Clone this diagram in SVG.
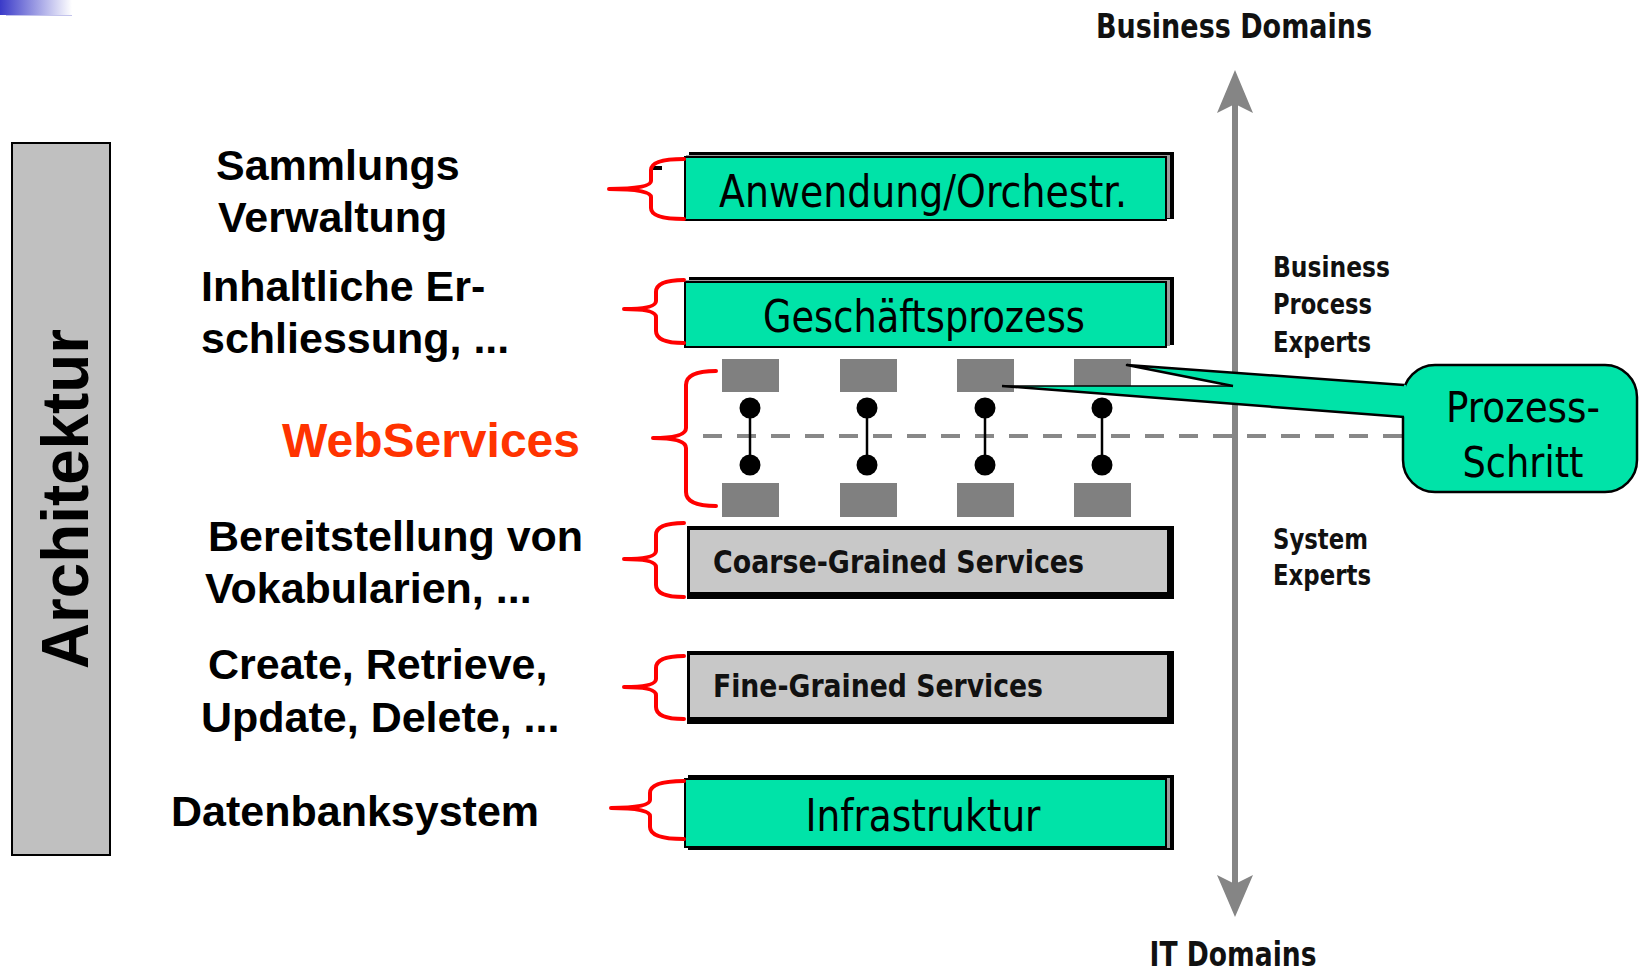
<svg xmlns="http://www.w3.org/2000/svg" width="1639" height="972" viewBox="0 0 1639 972">
  <style>
    .lbl { font-family: "Liberation Sans", Arial, sans-serif; font-weight: bold; font-size: 43px; fill: #000; }
    .title { font-family: "Liberation Sans", Arial, sans-serif; font-weight: bold; font-size: 66px; fill: #000; }
    .web { font-family: "Liberation Sans", Arial, sans-serif; font-weight: bold; font-size: 48px; fill: #ff3300; }
    .layer { font-family: "DejaVu Sans Condensed", "DejaVu Sans", sans-serif; font-stretch: condensed; font-size: 45px; fill: #000; text-anchor: middle; }
    .note { font-family: "DejaVu Sans Condensed", "DejaVu Sans", sans-serif; font-stretch: condensed; font-size: 43px; fill: #000; text-anchor: middle; }
    .svc { font-family: "DejaVu Sans Condensed", "DejaVu Sans", sans-serif; font-stretch: condensed; font-weight: bold; font-size: 32px; fill: #111; }
    .axis-big { font-family: "DejaVu Sans Condensed", "DejaVu Sans", sans-serif; font-stretch: condensed; font-weight: bold; font-size: 33px; fill: #111; text-anchor: middle; }
    .axis-sm { font-family: "DejaVu Sans Condensed", "DejaVu Sans", sans-serif; font-stretch: condensed; font-weight: bold; font-size: 29px; fill: #111; }
    .green { fill: #00e3a8; stroke: #000; stroke-width: 2; }
    .shadow { fill: #000; }
    .edge { fill: #9a9a9a; }
    .brace { fill: none; stroke: #ff0000; stroke-width: 4; stroke-linecap: round; stroke-linejoin: round; }
    .step { fill: #808080; }
    .dot { fill: #000; }
    .link { stroke: #000; stroke-width: 2.5; }
  </style>
  <defs>
    <linearGradient id="corner" x1="0" y1="0" x2="1" y2="0">
      <stop offset="0" stop-color="#3a3ac8"/>
      <stop offset="1" stop-color="#ffffff"/>
    </linearGradient>
  </defs>

  <rect x="0" y="0" width="1639" height="972" fill="#ffffff"/>
  <rect x="0" y="0" width="72" height="15" fill="url(#corner)"/>
  <line x1="6" y1="15.5" x2="72" y2="15.5" stroke="#c4c4ec" stroke-width="1"/>

  <!-- vertical architecture bar -->
  <g id="architektur">
    <rect x="12" y="143" width="98" height="712" fill="#c0c0c0" stroke="#000" stroke-width="2"/>
    <text class="title" text-anchor="middle" textLength="340" lengthAdjust="spacingAndGlyphs" transform="translate(88 499) rotate(-90)">Architektur</text>
  </g>

  <!-- left-hand descriptions -->
  <g id="labels">
    <text class="lbl" x="216" y="180">Sammlungs</text>
    <text class="lbl" x="218" y="232">Verwaltung</text>
    <text class="lbl" x="201" y="301">Inhaltliche Er-</text>
    <text class="lbl" x="201" y="353">schliessung, ...</text>
    <text class="web" x="282" y="457">WebServices</text>
    <text class="lbl" x="208" y="551">Bereitstellung von</text>
    <text class="lbl" x="205" y="603">Vokabularien, ...</text>
    <text class="lbl" x="208" y="679">Create, Retrieve,</text>
    <text class="lbl" x="201" y="732">Update, Delete, ...</text>
    <text class="lbl" x="171" y="826">Datenbanksystem</text>
  </g>

  <!-- business / IT axis -->
  <g id="axis">
    <line x1="1235" y1="104" x2="1235" y2="884" stroke="#858585" stroke-width="6"/>
    <path d="M1235 70 L1253 113 L1235 104 L1217 113 Z" fill="#858585"/>
    <path d="M1235 917 L1253 875 L1235 884 L1217 875 Z" fill="#858585"/>
    <text class="axis-big" x="1234" y="38" textLength="276" lengthAdjust="spacingAndGlyphs">Business Domains</text>
    <text class="axis-big" x="1233" y="966" textLength="167" lengthAdjust="spacingAndGlyphs">IT Domains</text>
    <text class="axis-sm" x="1273" y="277" textLength="117" lengthAdjust="spacingAndGlyphs">Business</text>
    <text class="axis-sm" x="1273" y="314" textLength="99" lengthAdjust="spacingAndGlyphs">Process</text>
    <text class="axis-sm" x="1273" y="352" textLength="98" lengthAdjust="spacingAndGlyphs">Experts</text>
    <text class="axis-sm" x="1273" y="549" textLength="95" lengthAdjust="spacingAndGlyphs">System</text>
    <text class="axis-sm" x="1273" y="585" textLength="98" lengthAdjust="spacingAndGlyphs">Experts</text>
  </g>

  <!-- layer: application / orchestration -->
  <g id="anwendung">
    <rect class="shadow" x="689" y="152" width="485" height="67"/>
    <rect class="edge" x="686" y="155" width="484" height="63"/>
    <rect class="green" x="685" y="157" width="481" height="63"/>
    <rect x="652" y="166" width="10" height="4" fill="#000"/>
    <text class="layer" x="923" y="207" textLength="408" lengthAdjust="spacingAndGlyphs">Anwendung/Orchestr.</text>
  </g>

  <!-- layer: business process -->
  <g id="geschaeftsprozess">
    <rect class="shadow" x="689" y="277" width="485" height="68"/>
    <rect class="edge" x="686" y="280" width="484" height="66"/>
    <rect class="green" x="685" y="282" width="481" height="65"/>
    <text class="layer" x="924" y="332" textLength="322" lengthAdjust="spacingAndGlyphs">Geschäftsprozess</text>
  </g>

  <!-- web service process steps -->
  <g id="webservices">
    <line x1="703" y1="436" x2="1402" y2="436" stroke="#888" stroke-width="4" stroke-dasharray="19 15"/>
    <rect class="step" x="722" y="359" width="57" height="33"/>
    <rect class="step" x="840" y="359" width="57" height="33"/>
    <rect class="step" x="957" y="359" width="57" height="33"/>
    <rect class="step" x="1074" y="359" width="57" height="33"/>
    <rect class="step" x="722" y="483" width="57" height="34"/>
    <rect class="step" x="840" y="483" width="57" height="34"/>
    <rect class="step" x="957" y="483" width="57" height="34"/>
    <rect class="step" x="1074" y="483" width="57" height="34"/>
    <line class="link" x1="750" y1="408" x2="750" y2="465"/>
    <line class="link" x1="867" y1="408" x2="867" y2="465"/>
    <line class="link" x1="985" y1="408" x2="985" y2="465"/>
    <line class="link" x1="1102" y1="408" x2="1102" y2="465"/>
    <circle class="dot" cx="750" cy="408" r="10.5"/>
    <circle class="dot" cx="750" cy="465" r="10.5"/>
    <circle class="dot" cx="867" cy="408" r="10.5"/>
    <circle class="dot" cx="867" cy="465" r="10.5"/>
    <circle class="dot" cx="985" cy="408" r="10.5"/>
    <circle class="dot" cx="985" cy="465" r="10.5"/>
    <circle class="dot" cx="1102" cy="408" r="10.5"/>
    <circle class="dot" cx="1102" cy="465" r="10.5"/>
  </g>

  <!-- layer: coarse-grained services -->
  <g id="coarse">
    <rect class="shadow" x="687" y="526" width="487" height="73"/>
    <rect x="690" y="530" width="477" height="62" fill="#c8c8c8"/>
    <text class="svc" x="713" y="573" textLength="371" lengthAdjust="spacingAndGlyphs">Coarse-Grained Services</text>
  </g>

  <!-- layer: fine-grained services -->
  <g id="fine">
    <rect class="shadow" x="687" y="651" width="487" height="73"/>
    <rect x="690" y="655" width="477" height="62" fill="#c8c8c8"/>
    <text class="svc" x="713" y="697" textLength="330" lengthAdjust="spacingAndGlyphs">Fine-Grained Services</text>
  </g>

  <!-- layer: infrastructure -->
  <g id="infrastruktur">
    <rect class="shadow" x="688" y="775" width="486" height="75"/>
    <rect class="edge" x="686" y="778" width="484" height="70"/>
    <rect class="green" x="685" y="779" width="481" height="68"/>
    <text class="layer" x="923" y="831" textLength="235" lengthAdjust="spacingAndGlyphs">Infrastruktur</text>
  </g>

  <!-- callout for a process step -->
  <g id="prozess-schritt">
    <rect x="1403" y="365" width="234" height="127" rx="32" ry="32" fill="#00e3a8" stroke="#000" stroke-width="2.5"/>
    <polygon points="1002,386 1233,386 1127,365 1406,385 1406,417" fill="#00e3a8"/>
    <polyline points="1233,386 1127,365 1404,385" fill="none" stroke="#000" stroke-width="2.5" stroke-linejoin="round"/>
    <line x1="1002" y1="386" x2="1404" y2="417" stroke="#000" stroke-width="2.5"/>
    <line x1="1002" y1="386" x2="1233" y2="386" stroke="#000" stroke-width="1.5"/>
    <text class="note" x="1523" y="422" textLength="154" lengthAdjust="spacingAndGlyphs">Prozess-</text>
    <text class="note" x="1523" y="477" textLength="121" lengthAdjust="spacingAndGlyphs">Schritt</text>
  </g>

  <!-- braces tying descriptions to layers -->
  <g id="connectors">
    <path class="brace" d="M684 159 Q651 159 651 170 L651 181 Q651 189 609 189 M609 189 Q651 189 651 197 L651 208 Q651 219 684 219"/>
    <path class="brace" d="M684 280 Q656 280 656 292 L656 301 Q656 309 624 309 M624 309 Q656 309 656 317 L656 331 Q656 343 684 343"/>
    <path class="brace" d="M716 371 Q686 371 686 385 L686 428 Q686 438 653 438 M653 438 Q686 438 686 448 L686 492 Q686 506 716 506"/>
    <path class="brace" d="M684 523 Q656 523 656 535 L656 551 Q656 559 624 559 M624 559 Q656 559 656 567 L656 585 Q656 597 684 597"/>
    <path class="brace" d="M684 656 Q656 656 656 668 L656 679 Q656 687 624 687 M624 687 Q656 687 656 695 L656 707 Q656 719 684 719"/>
    <path class="brace" d="M684 781 Q650 781 650 793 L650 800 Q650 808 611 808 M611 808 Q650 808 650 816 L650 827 Q650 839 684 839"/>
  </g>
</svg>
